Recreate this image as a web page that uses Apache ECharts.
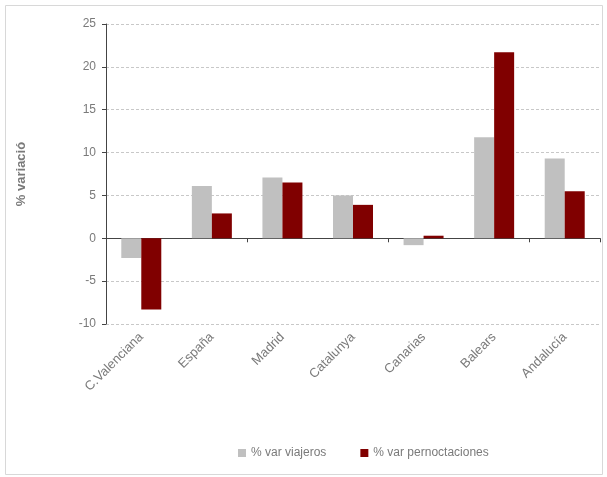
<!DOCTYPE html>
<html><head><meta charset="utf-8">
<script src="https://cdn.jsdelivr.net/npm/echarts@6/dist/echarts.min.js"></script>
<style>html,body{margin:0;padding:0;background:#fff}#c{width:607px;height:477px}</style>
</head><body><div id="c"></div>
<script>
const categories = ['C.Valenciana','España','Madrid','Catalunya','Canarias','Balears','Andalucía'];
const viajeros = [-2.3, 6.1, 7.1, 5.0, -0.8, 11.8, 9.3];
const pernoctaciones = [-8.3, 2.9, 6.5, 3.9, 0.3, 21.7, 5.5];
const seriesNames = ['% var viajeros', '% var pernoctaciones'];
const yTitle = '% variació';

const chart = echarts.init(document.getElementById('c'), null, {renderer:'canvas'});
const txt = '#7a7a7a';
chart.setOption({
  animation:false,
  backgroundColor:'#fff',
  graphic:[{type:'rect',shape:{x:5.5,y:5.5,width:597,height:469},style:{fill:'none',stroke:'#d8d8d8',lineWidth:1},silent:true}],
  grid:{left:106,right:7,top:24,bottom:153,containLabel:false},
  legend:{bottom:13,left:233,itemWidth:8,itemHeight:8,itemGap:34,icon:'rect',
    textStyle:{color:txt,fontSize:12,fontFamily:'Liberation Sans'},data:seriesNames},
  xAxis:[{type:'category',data:categories,position:'bottom',
      axisLine:{show:false,onZero:false},axisTick:{show:false},
      axisLabel:{rotate:45,color:txt,fontSize:13,fontFamily:'Liberation Sans',margin:11,interval:0}},
    {type:'category',data:categories,position:'bottom',
      axisLine:{show:true,onZero:true,lineStyle:{color:'#444',width:1}},
      axisTick:{show:true,length:4,inside:false,lineStyle:{color:'#444'}},
      axisLabel:{show:false}}],
  yAxis:{type:'value',min:-10,max:25,interval:5,
    name:yTitle,nameLocation:'middle',nameGap:78,nameRotate:90,
    nameTextStyle:{color:txt,fontSize:13,fontWeight:'bold',fontFamily:'Liberation Sans'},
    axisLine:{show:true,lineStyle:{color:'#444'}},
    axisTick:{show:true,length:4,lineStyle:{color:'#444'}},
    axisLabel:{color:txt,fontSize:12,fontFamily:'Liberation Sans',margin:10},
    splitLine:{show:true,lineStyle:{color:'#c8c8c8',type:[3,2]}}},
  series:[
    {name:seriesNames[0],type:'bar',data:viajeros,barWidth:20,barGap:'0%',itemStyle:{color:'#c0c0c0'}},
    {name:seriesNames[1],type:'bar',data:pernoctaciones,barWidth:20,barGap:'0%',itemStyle:{color:'#800000'}}
  ]
});
</script></body></html>
